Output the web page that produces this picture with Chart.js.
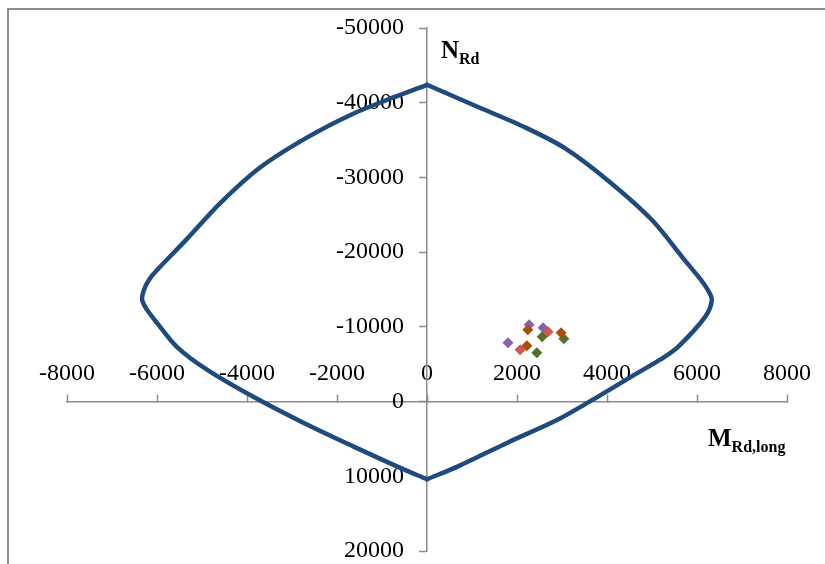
<!DOCTYPE html>
<html>
<head>
<meta charset="utf-8">
<script src="https://cdn.jsdelivr.net/npm/chart.js@4.4.0/dist/chart.umd.min.js"></script>
<style>
  html, body { margin: 0; padding: 0; background: #fff; overflow: hidden; }
  #wrap { position: relative; width: 825px; height: 564px; overflow: hidden; }
  #frame { position: absolute; left: 7px; top: 8px; width: 900px; height: 700px; border: 2px solid #8c8c8c; }
  #chart { position: absolute; left: 0; top: 0; }
  .ttl { position: absolute; font-family: "Liberation Serif", "Times New Roman", serif; font-weight: bold; font-size: 25px; color: #000; line-height: 1; white-space: nowrap; }
  .ttl sub { font-size: 16px; vertical-align: -6px; }
</style>
</head>
<body>
<div id="wrap">
  <div id="frame"></div>
  <!-- canvas is a bit taller than the view, the layout keeps ~27px under the plot -->
  <canvas id="chart" width="825" height="579"></canvas>
  <div class="ttl" style="left:441px; top:37px;">N<sub>Rd</sub></div>
  <div class="ttl" style="left:708px; top:425px;">M<sub>Rd,long</sub></div>
</div>
<script>
  // interaction curve, right half (top -> bottom)
  const rightM = [0, 1070, 2180, 3070, 4020, 5000, 5730, 5910, 6090, 6240, 6330, 6180, 5580, 5180, 4690, 3800, 2910, 1800, 690, 0];
  const rightN = [-42400, -39600, -36700, -33900, -29600, -24300, -18900, -17600, -16270, -14930, -13600, -11330, -7330, -5600, -3870, -670, 2400, 5470, 8670, 10400];
  // left half (bottom -> top)
  const leftM = [0, -670, -1640, -2760, -3870, -4890, -5560, -6000, -6220, -6330, -6290, -6180, -6000, -5380, -4600, -3710, -2670, -1640, -760, 0];
  const leftN = [10400, 8670, 6000, 2800, -670, -4270, -7330, -10530, -12270, -13600, -14930, -16270, -17600, -21470, -26530, -31330, -35330, -38530, -40670, -42400];

  // design load points
  const purpleM = [2270, 2580, 1800];
  const purpleN = [-10270, -9870, -7870];
  const redM = [2690, 2070];
  const redN = [-9330, -6930];
  const greenM = [2560, 3040, 2440];
  const greenN = [-8670, -8400, -6530];
  const orangeM = [2240, 2980, 2220];
  const orangeN = [-9600, -9200, -7470];

  const xMin = -8000, xMax = 8000, xStep = 2000;
  const yMin = -50000, yMax = 20000, yStep = 10000;

  const toPts = (xs, ys) => xs.map((x, i) => ({ x: x, y: ys[i] }));

  const lineColor = "#1f4a7e";
  const axisColor = "#8c8c8c";
  const tickFont = { family: "'Liberation Serif', 'Times New Roman', serif", size: 24, lineHeight: 1 };

  function curve(data) {
    return {
      data,
      showLine: true,
      borderColor: lineColor,
      borderWidth: 4.5,
      pointRadius: 0,
      tension: 0.3,
      borderCapStyle: "round",
      borderJoinStyle: "round",
    };
  }

  function marks(data, color) {
    return {
      data,
      showLine: false,
      pointStyle: "rectRot",
      pointRadius: 5.5,
      pointBackgroundColor: color,
      pointBorderColor: color,
      pointBorderWidth: 0,
    };
  }

  new Chart(document.getElementById("chart").getContext("2d"), {
    type: "scatter",
    data: {
      datasets: [
        curve(toPts(rightM, rightN)),
        curve(toPts(leftM, leftN)),
        marks(toPts(orangeM, orangeN), "#aa4e0a"),
        marks(toPts(greenM, greenN), "#56702c"),
        marks(toPts(redM, redN), "#cf5656"),
        marks(toPts(purpleM, purpleN), "#8466aa"),
      ],
    },
    options: {
      responsive: false,
      animation: false,
      layout: { padding: { left: 67, right: 38, top: 28, bottom: 12 } },
      plugins: { legend: { display: false }, tooltip: { enabled: false } },
      scales: {
        x: {
          type: "linear",
          position: { y: 0 },
          min: xMin,
          max: xMax,
          ticks: {
            stepSize: xStep,
            autoSkip: false,
            maxRotation: 0,
            padding: -32,
            color: "#000",
            font: tickFont,
            callback: (v) => String(v),
          },
          grid: { drawOnChartArea: false, tickLength: -8, color: axisColor, tickWidth: 1.5 },
          border: { color: axisColor, width: 1.5 },
        },
        y: {
          type: "linear",
          position: "center",
          reverse: true,
          min: yMin,
          max: yMax,
          ticks: {
            stepSize: yStep,
            autoSkip: false,
            padding: 16,
            color: "#000",
            font: tickFont,
            callback: (v) => String(v),
          },
          grid: { drawOnChartArea: false, tickLength: 7, color: axisColor, tickWidth: 1.5 },
          border: { color: axisColor, width: 1.5 },
        },
      },
    },
  });
</script>
</body>
</html>
